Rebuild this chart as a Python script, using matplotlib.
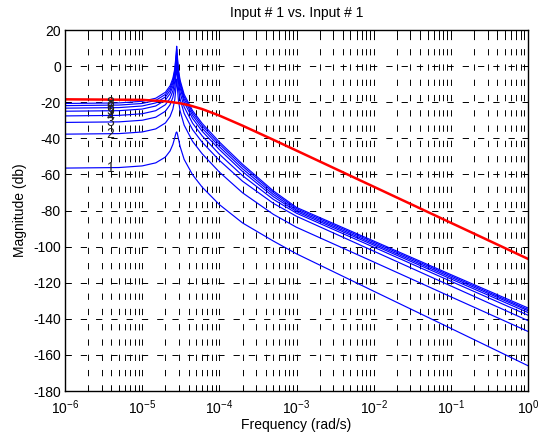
"""Bode magnitude plot: Input # 1 vs. Input # 1."""

import matplotlib

matplotlib.use("Agg")
import matplotlib.pyplot as plt
from matplotlib.ticker import LogLocator, MultipleLocator, NullLocator

plt.rcParams["font.family"] = ["Liberation Sans", "DejaVu Sans"]
plt.rcParams["mathtext.fontset"] = "custom"
plt.rcParams["mathtext.rm"] = "Liberation Sans"
plt.rcParams["axes.unicode_minus"] = False
plt.rcParams["lines.scale_dashes"] = False
plt.rcParams["font.size"] = 10

# frequencies (rad/s) at which the blue curves were read
freq = [1e-6, 5e-6, 1e-5, 1.5e-5, 2e-5, 2.3e-5, 2.5e-5, 2.65e-5, 2.75e-5,
        2.8e-5, 2.85e-5, 2.95e-5, 3.1e-5, 3.5e-5, 4.5e-5, 6e-5, 1e-4, 2e-4,
        5e-4, 1e-3, 1e-2, 1e-1, 1.0]

# magnitude (dB) of each blue curve
mag_1 = [-56.5, -56.2, -55.3, -53.6, -50.4, -47.0, -43.4, -39.5, -36.9,
         -36.5, -37.2, -40.2, -44.5, -51.7, -60.2, -67.1, -76.7, -86.9,
         -96.9, -104.0, -124.7, -145.3, -166.0]
mag_2 = [-37.7, -37.4, -36.5, -34.8, -31.5, -27.9, -23.8, -18.4, -11.0,
         -7.2, -11.2, -18.9, -24.8, -32.7, -41.7, -48.6, -58.7, -70.2,
         -82.1, -89.3, -108.5, -127.8, -147.0]
mag_3 = [-31.2, -30.9, -30.0, -28.3, -25.0, -21.4, -17.3, -11.9, -4.5,
         -0.7, -4.7, -12.4, -18.3, -26.2, -35.2, -42.2, -52.2, -63.8,
         -76.0, -83.2, -102.5, -121.8, -141.0]
mag_4 = [-27.6, -27.3, -26.4, -24.7, -21.4, -17.8, -13.7, -8.3, -0.9,
         2.9, -1.1, -8.8, -14.7, -22.6, -31.6, -38.7, -48.8, -60.7,
         -73.8, -81.5, -100.3, -119.2, -138.0]
mag_5 = [-25.0, -24.7, -23.8, -22.1, -18.8, -15.2, -11.1, -5.7, 1.7,
         5.5, 1.5, -6.2, -12.1, -20.0, -29.0, -36.1, -46.2, -58.4,
         -72.3, -80.6, -99.2, -117.9, -136.5]
mag_6 = [-23.3, -23.0, -22.1, -20.4, -17.1, -13.5, -9.4, -4.0, 3.4,
         7.2, 3.2, -4.5, -10.4, -18.3, -27.3, -34.4, -44.6, -56.9,
         -71.1, -79.8, -98.4, -117.0, -135.5]
mag_7 = [-21.9, -21.6, -20.7, -19.0, -15.7, -12.1, -8.0, -2.6, 4.8,
         9.3, 4.6, -3.1, -9.0, -16.9, -25.9, -33.0, -43.2, -55.5,
         -70.0, -79.0, -97.6, -116.2, -134.8]
mag_8 = [-20.7, -20.4, -19.5, -17.8, -14.5, -10.9, -6.8, -1.4, 6.3,
         11.0, 6.1, -1.9, -7.8, -15.7, -24.7, -31.8, -42.0, -54.4,
         -69.1, -78.3, -96.9, -115.5, -134.0]
curve_labels = ["1", "2", "3", "4", "5", "6", "7", "8"]
label_freq = 3.9e-6

# red reference curve
red_freq = [1e-6, 1e-5, 2e-5, 3e-5, 4e-5, 6e-5, 1e-4, 2e-4, 5e-4, 1e-3,
            1e-2, 1e-1, 1.0]
red_mag = [-18.4, -18.7, -19.5, -20.5, -21.6, -23.8, -27.4, -33.0, -40.8,
           -46.8, -66.8, -86.8, -106.8]

blue_mags = [mag_1, mag_2, mag_3, mag_4, mag_5, mag_6, mag_7, mag_8]

fig = plt.figure(figsize=(5.44, 4.36), dpi=100)
ax = fig.add_axes([65 / 544, 45 / 436, 463 / 544, 361 / 436])

for mag, label in zip(blue_mags, curve_labels):
    ax.semilogx(freq, mag, color="#0000ff", linewidth=0.85)
    ax.text(label_freq, mag[0], label, color="#222222", fontsize=10,
            ha="center", va="center")

ax.semilogx(red_freq, red_mag, color="#ff0000", linewidth=1.8)

ax.set_xlim(1e-6, 1)
ax.set_ylim(-180, 20)
ax.yaxis.set_major_locator(MultipleLocator(20))
ax.yaxis.set_minor_locator(NullLocator())
ax.xaxis.set_major_locator(LogLocator(base=10, numticks=10))
ax.xaxis.set_minor_locator(LogLocator(base=10, subs=range(2, 10), numticks=20))

# MATLAB-style dashed grid
ax.grid(True, which="major", axis="both", color="k", linewidth=0.7,
        linestyle=(0, (4.5, 6.5)))
ax.grid(True, which="minor", axis="x", color="k", linewidth=0.7,
        linestyle=(0, (4.5, 6.5)))
ax.set_axisbelow(True)

ax.tick_params(which="both", direction="in", top=True, right=True,
               width=0.7, labelsize=10)
ax.tick_params(which="major", length=4.5)
ax.tick_params(which="minor", length=3.5)
ax.tick_params(axis="x", pad=5)
ax.tick_params(axis="y", pad=3)
for spine in ax.spines.values():
    spine.set_linewidth(1.0)

ax.set_title("Input # 1 vs. Input # 1", fontsize=10, pad=9)
ax.set_xlabel("Frequency (rad/s)", fontsize=10, labelpad=1)
ax.set_ylabel("Magnitude (db)", fontsize=10, labelpad=4)

fig.savefig("out.png", dpi=100)
